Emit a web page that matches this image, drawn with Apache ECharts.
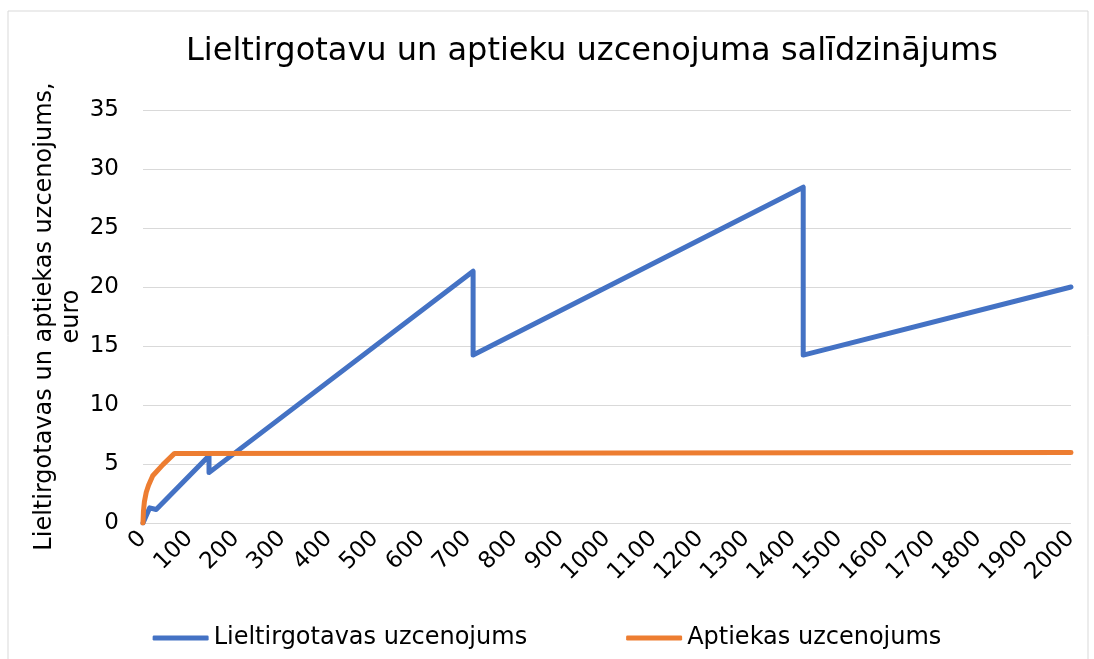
<!DOCTYPE html>
<html>
<head>
<meta charset="utf-8">
<script src="https://cdn.jsdelivr.net/npm/echarts@6/dist/echarts.min.js"></script>
<style>
  html, body { margin: 0; padding: 0; background: #fff; }
  #chart { width: 1094px; height: 659px; }
</style>
</head>
<body>
<div id="chart"></div>
<script>
// cena (x) un uzcenojums euro (y)
const wholesaleX = [0, 14.23, 28.46, 142.29, 142.29, 711.44, 711.44, 1422.87, 1422.87, 2000]
const wholesaleY = [0, 1.28, 1.14, 5.69, 4.27, 21.34, 14.23, 28.46, 14.23, 20]
const pharmacyX = [0, 1, 3, 7, 12, 21, 43, 68, 70, 2000]
const pharmacyY = [0, 1.0, 1.8, 2.6, 3.2, 4.0, 4.95, 5.9, 5.98, 5.98]
const seriesNames = ['Lieltirgotavas uzcenojums', 'Aptiekas uzcenojums']

const font = '"DejaVu Sans", Verdana, sans-serif'
const zip = (xs, ys) => xs.map((x, i) => [x, ys[i]])

const chart = echarts.init(document.getElementById('chart'))
chart.setOption({
  animation: false,
  textStyle: { fontFamily: font },
  title: {
    text: 'Lieltirgotavu un aptieku uzcenojuma salīdzinājums',
    left: 181,
    top: 31,
    textStyle: { fontFamily: font, fontSize: 32, fontWeight: 'normal', color: '#000' }
  },
  graphic: [{
    type: 'rect',
    shape: { x: 8, y: 11, width: 1080, height: 700 },
    style: { fill: 'none', stroke: '#d9d9d9', lineWidth: 1 },
    silent: true
  }],
  grid: { left: 143, right: 23, top: 110, bottom: 136 },
  legend: {
    bottom: 4,
    left: 'center',
    itemGap: 99,
    itemWidth: 56,
    itemHeight: 5,
    icon: 'roundRect',
    textStyle: { fontFamily: font, fontSize: 24, color: '#000' },
    data: seriesNames
  },
  xAxis: {
    type: 'value',
    min: 0,
    max: 2000,
    interval: 100,
    axisLine: { show: false },
    axisTick: { show: false },
    splitLine: { show: false },
    axisLabel: {
      rotate: 45, margin: 12, fontSize: 23, color: '#000', fontFamily: font,
      formatter: (v) => String(v)
    }
  },
  yAxis: {
    type: 'value',
    min: 0,
    max: 35,
    interval: 5,
    name: 'Lieltirgotavas un aptiekas uzcenojums,\neuro',
    nameLocation: 'middle',
    nameRotate: 90,
    nameGap: 58,
    nameMoveOverlap: false,
    nameTextStyle: { fontFamily: font, fontSize: 24, color: '#000', lineHeight: 27 },
    axisLine: { show: false },
    axisTick: { show: false },
    splitLine: { lineStyle: { color: '#d9d9d9', width: 1 } },
    axisLabel: { margin: 24, fontSize: 23, color: '#000', fontFamily: font }
  },
  series: [
    {
      name: seriesNames[0],
      type: 'line',
      symbol: 'none',
      color: '#4472C4',
      lineStyle: { width: 5, color: '#4472C4', cap: 'round', join: 'round' },
      data: zip(wholesaleX, wholesaleY)
    },
    {
      name: seriesNames[1],
      type: 'line',
      symbol: 'none',
      color: '#ED7D31',
      lineStyle: { width: 5, color: '#ED7D31', cap: 'round', join: 'round' },
      data: zip(pharmacyX, pharmacyY)
    }
  ]
})
</script>
</body>
</html>
